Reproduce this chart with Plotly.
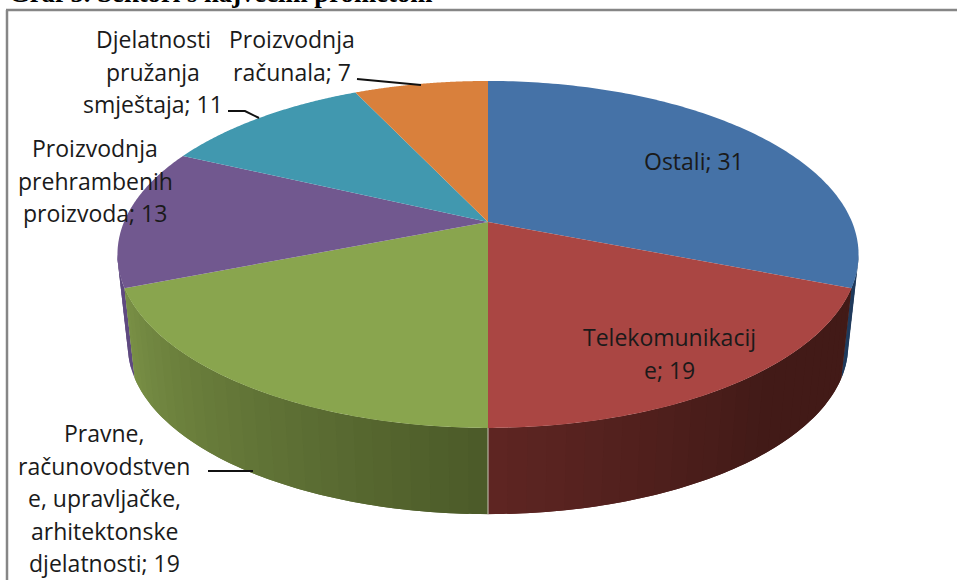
import numpy as np
import plotly.graph_objects as go

categories = ["Ostali", "Telekomunikacije",
              "Pravne, računovodstvene, upravljačke, arhitektonske djelatnosti",
              "Proizvodnja prehrambenih proizvoda",
              "Djelatnosti pružanja smještaja", "Proizvodnja računala"]
values = [31, 19, 19, 13, 11, 7]
top_colors = ["#4572A7", "#AA4643", "#89A54E", "#71588F", "#4198AF", "#D9803C"]
title_text = "Graf 5. Sektori s najvećim prometom"

# wrapped data labels as they break in the picture: lines, centre x, first-line y
label_lines = [
    (["Ostali; 31"], 694, 161),
    (["Telekomunikacij", "e; 19"], 669, 337),
    (["Pravne,", "računovodstven", "e, upravljačke,", "arhitektonske", "djelatnosti; 19"], 104, 433),
    (["Proizvodnja", "prehrambenih", "proizvoda; 13"], 95, 148),
    (["Djelatnosti", "pružanja", "smještaja; 11"], 153, 39),
    (["Proizvodnja", "računala; 7"], 292, 39),
]
leaders = [
    [(357, 79), (421, 85)],
    [(228, 111), (245, 111), (259, 118)],
    [(208, 471), (253, 471)],
]
LINE_GAP = 32.6
LABEL_FONT = "Open Sans"
LABEL_SIZE = 23

# perspective projection of the pie disc
CX, CY, BX, AY, K = 488.0, 222.0, 364.0, 167.4, 0.187
WALL_SHRINK, WALL_CY = 0.972, 314.0


def project(theta, bottom=False):
    X, Y = np.sin(theta), np.cos(theta)
    d = 1 + K * Y
    if bottom:
        return CX + WALL_SHRINK * BX * X / d, WALL_CY - WALL_SHRINK * AY * Y / d
    return CX + BX * X / d, CY - AY * Y / d


def mix(a, b, t):
    ca = [int(a[i:i + 2], 16) for i in (1, 3, 5)]
    cb = [int(b[i:i + 2], 16) for i in (1, 3, 5)]
    return "rgb(%d,%d,%d)" % tuple(round(p + (q - p) * t) for p, q in zip(ca, cb))


fractions = np.cumsum([0] + values) / sum(values)
edges = 2 * np.pi * fractions
fig = go.Figure()


def poly(xs, ys, color):
    fig.add_trace(go.Scatter(
        x=list(xs), y=list(ys), mode="none", fill="toself", fillcolor=color,
        hoverinfo="skip", showlegend=False))


# outer walls: shade by slice, each strip overlaps the next so no seams show
wall_shades = {
    0: ("#1F3A5C", "#1F3A5C"),
    1: ("#5E2522", "#421A17"),
    2: ("#4C5B29", "#7A9146"),
    3: ("#5F4A80", "#5F4A80"),
}
silhouette = np.arccos(-K)
visible = [(0, silhouette, edges[1]), (3, edges[3], 2 * np.pi - silhouette),
           (1, edges[1], edges[2]), (2, edges[2], edges[3])]
for idx, a0, a1 in visible:
    n = max(2, int((a1 - a0) / np.radians(2.5)))
    steps = np.linspace(a0, a1, n + 1)
    c0, c1 = wall_shades[idx]
    order = range(n - 1, -1, -1) if idx == 1 else range(n)
    for j in order:
        if idx == 1:
            # reversed drawing order: strip reaches back under its left neighbour
            lo, hi = steps[max(j - 1, 0)], steps[j + 1]
            t = min(1.0, (np.pi - steps[j + 1]) / np.radians(40))
        else:
            lo, hi = steps[j], steps[min(j + 2, n)]
            t = (steps[j] - np.pi) / (edges[3] - np.pi) if idx == 2 else 0
        th = np.linspace(lo, hi, 6)
        tx, ty = project(th)
        bx, by = project(th[::-1], bottom=True)
        poly(np.r_[tx, bx], np.r_[ty, by], mix(c0, c1, t))

# pale seam on the wall at the slice boundary facing the viewer
tx, ty = project(edges[2])
bx, by = project(edges[2], bottom=True)
fig.add_trace(go.Scatter(x=[tx, bx], y=[ty, by], mode="lines",
                         line=dict(color="#C9C9B8", width=1), hoverinfo="skip", showlegend=False))

# top faces
for i, col in enumerate(top_colors):
    th = np.linspace(edges[i], edges[i + 1], 120)
    tx, ty = project(th)
    poly(np.r_[CX, tx, CX], np.r_[CY, ty, CY], col)

# leader lines
for pts in leaders:
    fig.add_trace(go.Scatter(x=[p[0] for p in pts], y=[p[1] for p in pts], mode="lines",
                             line=dict(color="#111111", width=2), hoverinfo="skip", showlegend=False))

ann = []
for lines, x, y in label_lines:
    for k, line in enumerate(lines):
        ann.append(dict(x=x, y=y + k * LINE_GAP, text=line, showarrow=False, xanchor="center",
                        yanchor="middle", font=dict(family=LABEL_FONT, size=LABEL_SIZE, color="#1a1a1a")))
ann.append(dict(x=8, y=9, text="<b>%s</b>" % title_text, showarrow=False, xanchor="left", yanchor="bottom",
                borderpad=0, font=dict(family="Liberation Serif", size=26.7, color="#000000")))

fig.update_layout(
    width=957, height=580, margin=dict(l=0, r=0, t=0, b=0),
    paper_bgcolor="white", plot_bgcolor="white", showlegend=False, annotations=ann,
    xaxis=dict(range=[0, 957], visible=False, fixedrange=True),
    yaxis=dict(range=[580, 0], visible=False, fixedrange=True),
    shapes=[dict(type="line", x0=7, x1=7, y0=10, y1=580, line=dict(color="#868686", width=2.5), layer="below"),
            dict(type="line", x0=6, x1=957, y0=10, y1=10, line=dict(color="#868686", width=2.5), layer="below")],
)
fig.write_html("out.html", config={"displayModeBar": False},
               post_script="document.body.style.margin='0';document.body.style.overflow='hidden';")
